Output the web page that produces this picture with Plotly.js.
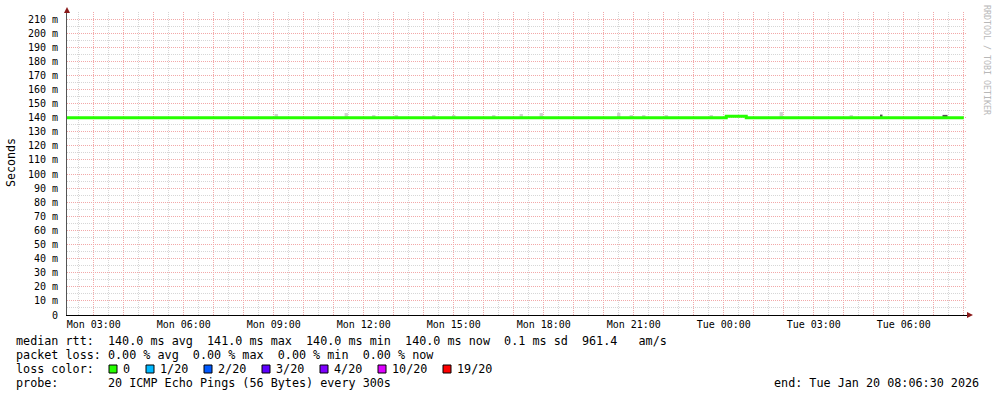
<!DOCTYPE html>
<html>
<head>
<meta charset="utf-8">
<script src="https://cdn.plot.ly/plotly-3.0.1.min.js"></script>
<style>
html, body { margin: 0; padding: 0; background: #fff; }
#chart { width: 997px; height: 397px; }
</style>
</head>
<body>
<div id="chart"></div>
<script>
// ---------------- data ----------------
const rangeStart = '2026-01-19 02:06:30';
const rangeEnd = '2026-01-20 08:06:30';

// median RTT (ms), step line
const medianTimes = ['2026-01-19 02:06:30', '2026-01-20 00:05:00', '2026-01-20 00:45:00', '2026-01-20 08:00:00'];
const medianValues = [140.0, 141.0, 140.0, 140.0];

// light smoke (ping spread above the median)
const smokeTimes = ['2026-01-19 09:05', '2026-01-19 11:25', '2026-01-19 12:20', '2026-01-19 13:05',
  '2026-01-19 14:20', '2026-01-19 15:00', '2026-01-19 16:20', '2026-01-19 17:15', '2026-01-19 17:55',
  '2026-01-19 20:30', '2026-01-19 20:55', '2026-01-19 21:20', '2026-01-19 22:05', '2026-01-19 23:35',
  '2026-01-20 01:55', '2026-01-20 04:15'];
const smokeLow = [139.5, 139.5, 139.5, 139.5, 139.5, 139.5, 139.5, 139.5, 139.5, 139.5, 139.5, 139.5, 139.5, 139.5, 139.5, 139.5];
const smokeHigh = [142.6, 143.3, 141.9, 141.9, 141.9, 141.9, 141.9, 142.6, 143.3, 143.5, 141.9, 141.9, 141.9, 141.9, 144.0, 141.9];

// darker smoke
const darkSmokeTimes = ['2026-01-20 05:15', '2026-01-20 07:20', '2026-01-20 07:25'];
const darkSmokeLow = [139.5, 139.5, 139.5];
const darkSmokeHigh = [142.2, 142.0, 142.0];

// axis ticks
const xTickTimes = ['2026-01-19 03:00', '2026-01-19 06:00', '2026-01-19 09:00', '2026-01-19 12:00',
  '2026-01-19 15:00', '2026-01-19 18:00', '2026-01-19 21:00', '2026-01-20 00:00', '2026-01-20 03:00',
  '2026-01-20 06:00'];
const xTickLabels = ['Mon 03:00', 'Mon 06:00', 'Mon 09:00', 'Mon 12:00', 'Mon 15:00', 'Mon 18:00',
  'Mon 21:00', 'Tue 00:00', 'Tue 03:00', 'Tue 06:00'];
const yTickValues = [0, 10, 20, 30, 40, 50, 60, 70, 80, 90, 100, 110, 120, 130, 140, 150, 160, 170, 180, 190, 200, 210];
const yTickLabels = ['0', '10 m', '20 m', '30 m', '40 m', '50 m', '60 m', '70 m', '80 m', '90 m', '100 m',
  '110 m', '120 m', '130 m', '140 m', '150 m', '160 m', '170 m', '180 m', '190 m', '200 m', '210 m'];

// legend
const statLine = 'median rtt:  140.0 ms avg  141.0 ms max  140.0 ms min  140.0 ms now  0.1 ms sd  961.4   am/s';
const lossLine = 'packet loss: 0.00 % avg  0.00 % max  0.00 % min  0.00 % now';
const lossTitle = 'loss color:';
const lossLabels = ['0', '1/20', '2/20', '3/20', '4/20', '10/20', '19/20'];
const lossColors = ['#26ff00', '#00b8ff', '#0059ff', '#5e00ff', '#7e00ff', '#dd00ff', '#ff0000'];
const probeLine = 'probe:       20 ICMP Echo Pings (56 Bytes) every 300s';
const endLine = 'end: Tue Jan 20 08:06:30 2026';
const watermark = 'RRDTOOL / TOBI OETIKER';

// ---------------- layout helpers ----------------
const W = 997, H = 397;
const L = 67, R = 967, T = 12, B = 315;
const px = x => (x - L) / (R - L);
const py = y => (B - y) / (B - T);
const nb = s => s.replace(/ /g, '\u00a0');
const MONO = 'DejaVu Sans Mono, monospace';
const MAJOR = '#f2a8a8';
const MINOR = '#d6d6d6';
const DASH = '1px,1px';

// hourly major grid, labels every 3 hours
const hourVals = [];
const hourText = [];
{
  let t = new Date('2026-01-19T03:00:00Z').getTime();
  const end = new Date('2026-01-20T08:06:30Z').getTime();
  const fmt = d => d.toISOString().slice(0, 19).replace('T', ' ');
  while (t <= end) {
    const s = fmt(new Date(t));
    hourVals.push(s);
    const i = xTickTimes.findIndex(v => v + ':00' === s);
    hourText.push(i >= 0 ? xTickLabels[i] : '');
    t += 3600000;
  }
}

const traces = [
  {
    type: 'bar', x: smokeTimes, base: smokeLow,
    y: smokeHigh.map((h, i) => h - smokeLow[i]),
    width: 400000, marker: { color: '#d0d0d0', line: { width: 0 } },
    hoverinfo: 'skip', showlegend: false
  },
  {
    type: 'bar', x: darkSmokeTimes, base: darkSmokeLow,
    y: darkSmokeHigh.map((h, i) => h - darkSmokeLow[i]),
    width: 300000, marker: { color: '#505050', line: { width: 0 } },
    hoverinfo: 'skip', showlegend: false
  },
  {
    type: 'scatter', mode: 'lines', x: medianTimes, y: medianValues,
    line: { shape: 'hv', color: '#26ff00', width: 3 },
    hoverinfo: 'skip', showlegend: false
  }
];

const annotations = [];
const shapes = [];
const addText = (text, x, y, opts = {}) => annotations.push(Object.assign({
  text: nb(text), xref: 'paper', yref: 'paper', x: px(x - 2), y: py(y),
  xanchor: 'left', yanchor: 'middle', showarrow: false,
  font: { family: MONO, size: 11.75, color: '#000' }
}, opts));

addText(statLine, 16, 341);
addText(lossLine, 16, 355);
addText(lossTitle, 16, 369);
addText(probeLine, 16, 383);
addText(endLine, 983, 383, { xanchor: 'right' });

{
  let x = 109;
  lossLabels.forEach((lab, i) => {
    shapes.push({
      type: 'rect', xref: 'paper', yref: 'paper',
      x0: px(x), x1: px(x + 8), y0: py(373), y1: py(365),
      fillcolor: lossColors[i], line: { color: '#000', width: 1 }
    });
    addText(lab, x + 14, 369);
    x += 14 + lab.length * 7 + 16;
  });
}

// y axis title
annotations.push({
  text: 'Seconds', xref: 'paper', yref: 'paper', x: px(11), y: py(163),
  xanchor: 'center', yanchor: 'middle', textangle: -90, showarrow: false,
  font: { family: MONO, size: 11.6, color: '#000' }
});
// watermark
annotations.push({
  text: nb(watermark), xref: 'paper', yref: 'paper', x: px(987), y: py(60),
  xanchor: 'center', yanchor: 'middle', textangle: 90, showarrow: false,
  font: { family: MONO, size: 8.3, color: '#b8b8b8' }
});

// axis arrows
shapes.push({
  type: 'path', xref: 'paper', yref: 'paper', xsizemode: 'pixel', ysizemode: 'pixel',
  xanchor: 0, yanchor: 1, path: 'M -3 -1 L 3 -1 L 0 5 Z',
  fillcolor: '#8b1a1a', line: { width: 0 }
});
shapes.push({
  type: 'path', xref: 'paper', yref: 'paper', xsizemode: 'pixel', ysizemode: 'pixel',
  xanchor: 1, yanchor: 0, path: 'M 0 -3 L 0 3 L 6 0 Z',
  fillcolor: '#8b1a1a', line: { width: 0 }
});

const layout = {
  width: W, height: H,
  margin: { l: L, r: W - R, t: T, b: H - B, pad: 0 },
  paper_bgcolor: '#fff', plot_bgcolor: '#fff',
  showlegend: false, barmode: 'overlay',
  xaxis: {
    type: 'date', range: [rangeStart, rangeEnd],
    tickmode: 'array', tickvals: hourVals, ticktext: hourText,
    showgrid: true, gridcolor: MAJOR, griddash: DASH, gridwidth: 1,
    minor: { tickmode: 'linear', tick0: '2026-01-19 02:30', dtick: 3600000, showgrid: true,
      gridcolor: MINOR, griddash: DASH, gridwidth: 1 },
    showline: true, linecolor: '#000', linewidth: 1,
    ticks: '', zeroline: false, fixedrange: true, layer: 'below traces',
    tickfont: { family: MONO, size: 10, color: '#000' }
  },
  yaxis: {
    range: [0, 215],
    tickmode: 'array', tickvals: yTickValues, ticktext: yTickLabels,
    showgrid: true, gridcolor: MAJOR, griddash: DASH, gridwidth: 1,
    minor: { tickmode: 'linear', tick0: 5, dtick: 10, showgrid: true,
      gridcolor: MINOR, griddash: DASH, gridwidth: 1 },
    showline: true, linecolor: '#555', linewidth: 1,
    ticks: '', zeroline: false, fixedrange: true, ticklabelstandoff: 6,
    tickfont: { family: MONO, size: 10, color: '#000' }
  },
  annotations, shapes
};

Plotly.newPlot('chart', traces, layout, { staticPlot: true, displayModeBar: false });
</script>
</body>
</html>
